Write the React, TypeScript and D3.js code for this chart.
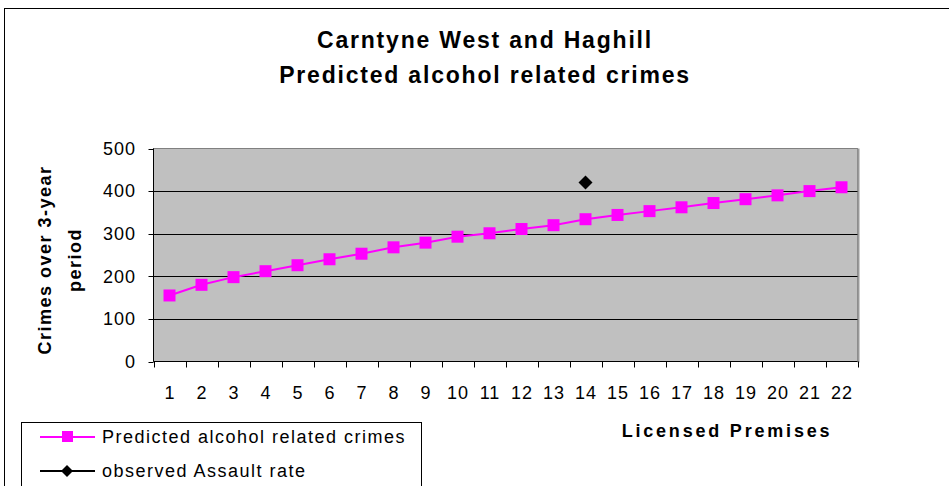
import React from "react";
import * as d3 from "d3";

const categories: number[] = [1,2,3,4,5,6,7,8,9,10,11,12,13,14,15,16,17,18,19,20,21,22];
const predicted: number[] = [155,180,198,212,226,240,253,268,279,293,301,311,320,334,344,353,362,372,381,390,400,409];
const observed: { cat: number; value: number }[] = [{ cat: 14, value: 420 }];
const yTicks: number[] = [0,100,200,300,400,500];
const titleLines: string[] = ["Carntyne West and Haghill", "Predicted alcohol related crimes"];
const yTitleLines: string[] = ["Crimes over 3-year", "period"];
const xTitle = "Licensed Premises";
const legendLabels: string[] = ["Predicted alcohol related crimes", "observed Assault rate"];

const W = 949, H = 486;
const FONT = "'Liberation Sans', Arial, sans-serif";

export default function App() {
  const left = 153.5, right = 857.5, top = 148.5, bottom = 361.5;
  const x = d3.scaleBand<number>().domain(categories).range([left, right]).padding(0);
  const y = d3.scaleLinear().domain([0, 500]).range([bottom, top]);
  const cx = (c: number) => (x(c) as number) + x.bandwidth() / 2;
  const line = d3.line<number>().x((_, i) => cx(categories[i])).y((d) => y(d));
  const diamond = (px: number, py: number, r: number) => `M${px},${py - r}L${px + r},${py}L${px},${py + r}L${px - r},${py}Z`;

  return (
    <svg width={W} height={H} style={{ position: "absolute", left: 0, top: 0, background: "#fff" }} fontFamily={FONT}>
      {/* outer frame */}
      <rect x={4.5} y={8.5} width={W + 10} height={H + 10} fill="#fff" stroke="#000" strokeWidth={1} />
      {/* title */}
      {titleLines.map((t, i) => (
        <text key={t} x={485} y={48 + i * 35} textAnchor="middle" fontSize={23} fontWeight="bold" letterSpacing={1.8} fill="#000">{t}</text>
      ))}
      {/* plot area */}
      <rect x={left} y={top} width={right - left} height={bottom - top} fill="#C0C0C0" stroke="#808080" strokeWidth={1} />
      <line x1={right + 1} x2={right + 1} y1={top} y2={bottom + 1} stroke="#9a9a9a" strokeWidth={2} />
      {/* gridlines */}
      {yTicks.filter((t) => t > 0 && t < 500).map((t) => (
        <line key={t} x1={left} x2={right} y1={Math.round(y(t)) + 0.5} y2={Math.round(y(t)) + 0.5} stroke="#000" strokeWidth={1} />
      ))}
      {/* axes */}
      <line x1={left} x2={left} y1={top} y2={bottom} stroke="#000" />
      <line x1={left} x2={right} y1={bottom} y2={bottom} stroke="#000" />
      {yTicks.map((t) => (
        <g key={t}>
          <line x1={left - 5} x2={left} y1={Math.round(y(t)) + 0.5} y2={Math.round(y(t)) + 0.5} stroke="#000" />
          <text x={136} y={y(t)} dy="0.35em" textAnchor="end" fontSize={18} letterSpacing={1} fill="#000">{t}</text>
        </g>
      ))}
      {[...categories.map((c) => x(c) as number), right].map((px, i) => (
        <line key={i} x1={Math.round(px) + 0.5} x2={Math.round(px) + 0.5} y1={bottom} y2={bottom + 6} stroke="#000" />
      ))}
      {categories.map((c) => (
        <text key={c} x={cx(c) + 0.5} y={399} textAnchor="middle" fontSize={18} letterSpacing={1} fill="#000">{c}</text>
      ))}
      {/* axis titles */}
      {yTitleLines.map((t, i) => (
        <text key={t} transform={`translate(${51 + i * 30},260) rotate(-90)`} textAnchor="middle" fontSize={18} fontWeight="bold" letterSpacing={1.5} fill="#000">{t}</text>
      ))}
      <text x={727} y={437} textAnchor="middle" fontSize={18} fontWeight="bold" letterSpacing={2.8} fill="#000">{xTitle}</text>
      {/* series */}
      <path d={line(predicted) || ""} fill="none" stroke="#FF00FF" strokeWidth={2} />
      {predicted.map((v, i) => (
        <rect key={i} x={cx(categories[i]) - 6} y={y(v) - 6} width={12} height={12} fill="#FF00FF" />
      ))}
      {observed.map((o) => (
        <path key={o.cat} d={diamond(cx(o.cat), y(o.value), 7)} fill="#000" />
      ))}
      {/* legend */}
      <rect x={21.5} y={422.5} width={400} height={80} fill="#fff" stroke="#000" strokeWidth={1} />
      <line x1={40} x2={95} y1={437} y2={437} stroke="#FF00FF" strokeWidth={2} />
      <rect x={62} y={431} width={11} height={11} fill="#FF00FF" />
      <text x={102} y={437} dy="0.35em" fontSize={18} letterSpacing={1.5} fill="#000">{legendLabels[0]}</text>
      <line x1={40} x2={95} y1={471} y2={471} stroke="#000" strokeWidth={2} />
      <path d={diamond(67, 471, 6)} fill="#000" />
      <text x={102} y={471} dy="0.35em" fontSize={18} letterSpacing={1.5} fill="#000">{legendLabels[1]}</text>
    </svg>
  );
}
